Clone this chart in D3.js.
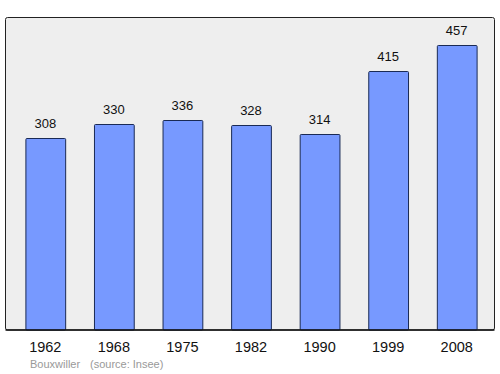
<!DOCTYPE html>
<html>
<head>
<meta charset="utf-8">
<script src="https://cdn.jsdelivr.net/npm/d3@7"></script>
<style>
  body { margin: 0; background: #fff; }
  text { font-family: "Liberation Sans", Arial, sans-serif; }
</style>
</head>
<body>
<div id="chart"></div>
<script>
const years = ['1962', '1968', '1975', '1982', '1990', '1999', '2008'];
const population = [308, 330, 336, 328, 314, 415, 457];
const place = 'Bouxwiller';
const source = '(source: Insee)';

const width = 500, height = 374;
const frame = { left: 5.5, top: 17.5, right: 494.5, bottom: 330 };

const svg = d3.select('#chart').append('svg')
    .attr('width', width)
    .attr('height', height);

svg.append('rect')
    .attr('x', frame.left)
    .attr('y', frame.top)
    .attr('width', frame.right - frame.left)
    .attr('height', frame.bottom - frame.top)
    .attr('rx', 2)
    .attr('fill', '#eeeeee')
    .attr('stroke', '#222')
    .attr('stroke-width', 1);

const x = d3.scaleBand()
    .domain(years)
    .range([11, 491])
    .paddingInner(0.42)
    .paddingOuter(0.21);

// 0 sits on the frame bottom, 457 at y=45
const y = d3.scaleLinear()
    .domain([0, 457])
    .range([frame.bottom, 45]);

const data = years.map((yr, i) => ({ year: yr, value: population[i] }));

svg.selectAll('.bar')
    .data(data)
  .enter().append('rect')
    .attr('class', 'bar')
    .attr('x', d => x(d.year) + 0.5)
    .attr('y', d => Math.round(y(d.value)) + 0.5)
    .attr('width', x.bandwidth())
    .attr('height', d => frame.bottom - Math.round(y(d.value)) - 0.5)
    .attr('rx', 1)
    .attr('fill', '#7799ff')
    .attr('stroke', '#1a2a55')
    .attr('stroke-width', 1);

svg.selectAll('.val')
    .data(data)
  .enter().append('text')
    .attr('class', 'val')
    .attr('x', d => x(d.year) + x.bandwidth() / 2)
    .attr('y', d => y(d.value) - 10)
    .attr('text-anchor', 'middle')
    .attr('font-size', 13)
    .attr('fill', '#111')
    .text(d => d.value);

// bottom axis line drawn over the frame
svg.append('line')
    .attr('x1', frame.left).attr('x2', frame.right)
    .attr('y1', frame.bottom).attr('y2', frame.bottom)
    .attr('stroke', '#111')
    .attr('stroke-width', 1.5);

svg.selectAll('.year')
    .data(years)
  .enter().append('text')
    .attr('class', 'year')
    .attr('x', d => x(d) + x.bandwidth() / 2)
    .attr('y', 352)
    .attr('text-anchor', 'middle')
    .attr('font-size', 14.5)
    .attr('fill', '#111')
    .text(d => d);

svg.append('text')
    .attr('x', 30)
    .attr('y', 368)
    .attr('font-size', 11)
    .attr('fill', '#999')
    .text(place);

svg.append('text')
    .attr('x', 90)
    .attr('y', 368)
    .attr('font-size', 11)
    .attr('fill', '#999')
    .text(source);
</script>
</body>
</html>
